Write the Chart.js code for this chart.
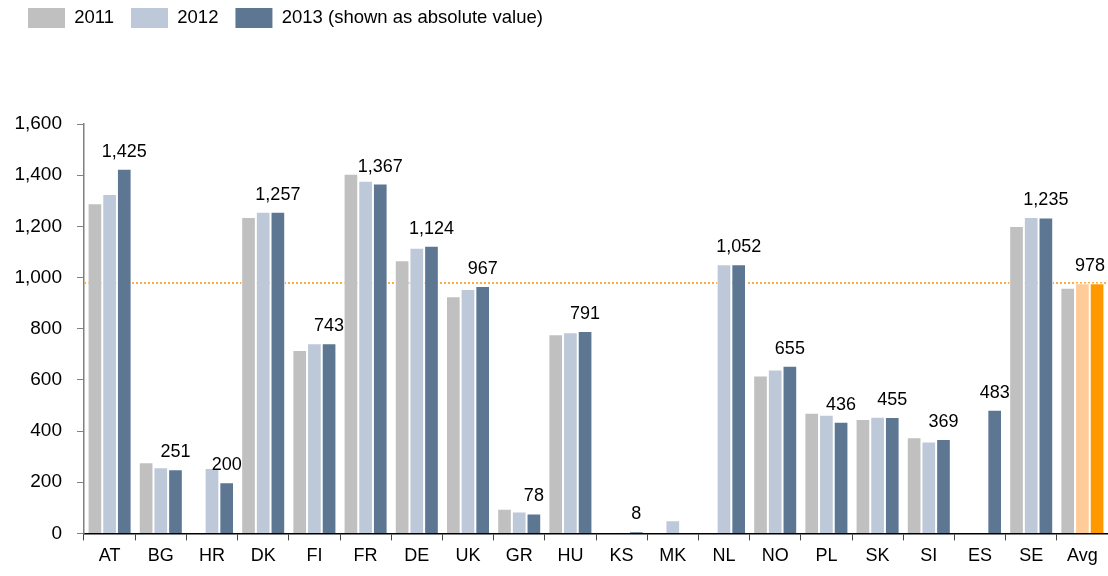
<!DOCTYPE html>
<html>
<head>
<meta charset="utf-8">
<script src="https://cdn.jsdelivr.net/npm/chart.js@4/dist/chart.umd.min.js"></script>
<style>
  html, body { margin: 0; padding: 0; background: #fff; }
  #wrap { width: 1108px; height: 576px; position: relative; }
</style>
</head>
<body>
<div id="wrap"><canvas id="c" width="1108" height="576"></canvas></div>
<script>
const categories = ['AT','BG','HR','DK','FI','FR','DE','UK','GR','HU','KS','MK','NL','NO','PL','SK','SI','ES','SE','Avg'];
const v2011 = [1290, 278, null, 1237, 717, 1406, 1068, 927, 96, 778, null, null, null, 617, 472, 447, 376, null, 1201, 960];
const v2012 = [1326, 259, 256, 1257, 743, 1378, 1116, 955, 86, 786, 3, 51, 1052, 641, 464, 456, 359, null, 1237, 978];
const v2013 = [1425, 251, 200, 1257, 743, 1367, 1124, 967, 78, 791, 8, null, 1052, 655, 436, 455, 369, 483, 1235, 978];
const seriesNames = ['2011', '2012', '2013 (shown as absolute value)'];
const avgValue = 978;
const yTicks = [0, 200, 400, 600, 800, 1000, 1200, 1400, 1600];

const C2011 = '#C0C0C0', C2012 = '#BDC8D8', C2013 = '#5D7793';
const CAvg12 = '#FFCC99', CAvg13 = '#FF9900';
const colors2012 = categories.map(c => c === 'Avg' ? CAvg12 : C2012);
const colors2013 = categories.map(c => c === 'Avg' ? CAvg13 : C2013);

const fmt = v => v.toLocaleString('en-US');

Chart.defaults.font.family = '"Liberation Sans", Arial, sans-serif';
Chart.defaults.color = '#000';

const legendSpace = {
  id: 'legendSpace',
  beforeInit(chart) {
    const orig = chart.legend.fit;
    chart.legend.fit = function () { orig.call(this); this.height += 77; };
  },
  afterLayout(chart) {
    chart.legend.left = 11;
    chart.legend.top = -9;
  }
};

const avgLine = {
  id: 'avgLine',
  beforeDatasetsDraw(chart) {
    const { ctx, chartArea, scales } = chart;
    const y = Math.round(scales.y.getPixelForValue(avgValue));
    ctx.save();
    ctx.strokeStyle = '#FFAE3D';
    ctx.lineWidth = 2;
    ctx.setLineDash([2, 2]);
    ctx.beginPath();
    ctx.moveTo(Math.round(chartArea.left), y);
    ctx.lineTo(chartArea.right, y);
    ctx.stroke();
    ctx.restore();
  }
};

const valueLabels = {
  id: 'valueLabels',
  afterDatasetsDraw(chart) {
    const { ctx, scales } = chart;
    const meta = chart.getDatasetMeta(2);
    ctx.save();
    ctx.font = '18px "Liberation Sans", Arial, sans-serif';
    ctx.fillStyle = '#000';
    ctx.textAlign = 'center';
    ctx.textBaseline = 'alphabetic';
    v2013.forEach((v, i) => {
      if (v === null) return;
      const txt = fmt(v);
      const half = ctx.measureText(txt).width / 2;
      let x = meta.data[i].x;
      if (x + half > chart.width - 3) x = chart.width - 3 - half;
      const y = scales.y.getPixelForValue(v) - 12;
      ctx.fillText(txt, x, y);
    });
    ctx.restore();
  }
};

new Chart(document.getElementById('c'), {
  type: 'bar',
  data: {
    labels: categories,
    datasets: [
      { label: seriesNames[0], data: v2011, backgroundColor: C2011, borderColor: '#fff', borderWidth: 1, borderSkipped: 'bottom' },
      { label: seriesNames[1], data: v2012, backgroundColor: colors2012, borderColor: '#fff', borderWidth: 1, borderSkipped: 'bottom' },
      { label: seriesNames[2], data: v2013, backgroundColor: colors2013, borderColor: '#fff', borderWidth: 1, borderSkipped: 'bottom' }
    ]
  },
  options: {
    responsive: false,
    animation: false,
    layout: { padding: { left: 0, right: 0, top: 0, bottom: 4 } },
    datasets: { bar: { categoryPercentage: 0.86, barPercentage: 1.0 } },
    plugins: {
      legend: {
        position: 'top',
        align: 'start',
        labels: {
          boxWidth: 37,
          boxHeight: 20,
          padding: 17,
          font: { size: 18.5 },
          color: '#000',
          generateLabels(chart) {
            const fills = [C2011, C2012, C2013];
            return chart.data.datasets.map((ds, i) => ({
              text: ds.label, fillStyle: fills[i], strokeStyle: fills[i], lineWidth: 0, datasetIndex: i, fontColor: '#000'
            }));
          }
        }
      },
      tooltip: { enabled: false }
    },
    scales: {
      x: {
        grid: { drawOnChartArea: false, drawTicks: true, tickLength: 7, color: '#444', offset: true },
        border: { color: '#000', width: 1.5 },
        ticks: { font: { size: 18 }, color: '#000', padding: 5, maxRotation: 0, autoSkip: false }
      },
      y: {
        min: 0, max: 1600,
        afterBuildTicks(scale) { scale.ticks = yTicks.map(v => ({ value: v })); },
        afterFit(scale) { scale.width = 84; },
        grid: { drawOnChartArea: false, drawTicks: true, tickLength: 7, color: '#808080' },
        border: { color: '#808080', width: 1.5 },
        ticks: { font: { size: 19 }, color: '#000', padding: 15, callback: v => fmt(v) }
      }
    }
  },
  plugins: [legendSpace, avgLine, valueLabels]
});
</script>
</body>
</html>
